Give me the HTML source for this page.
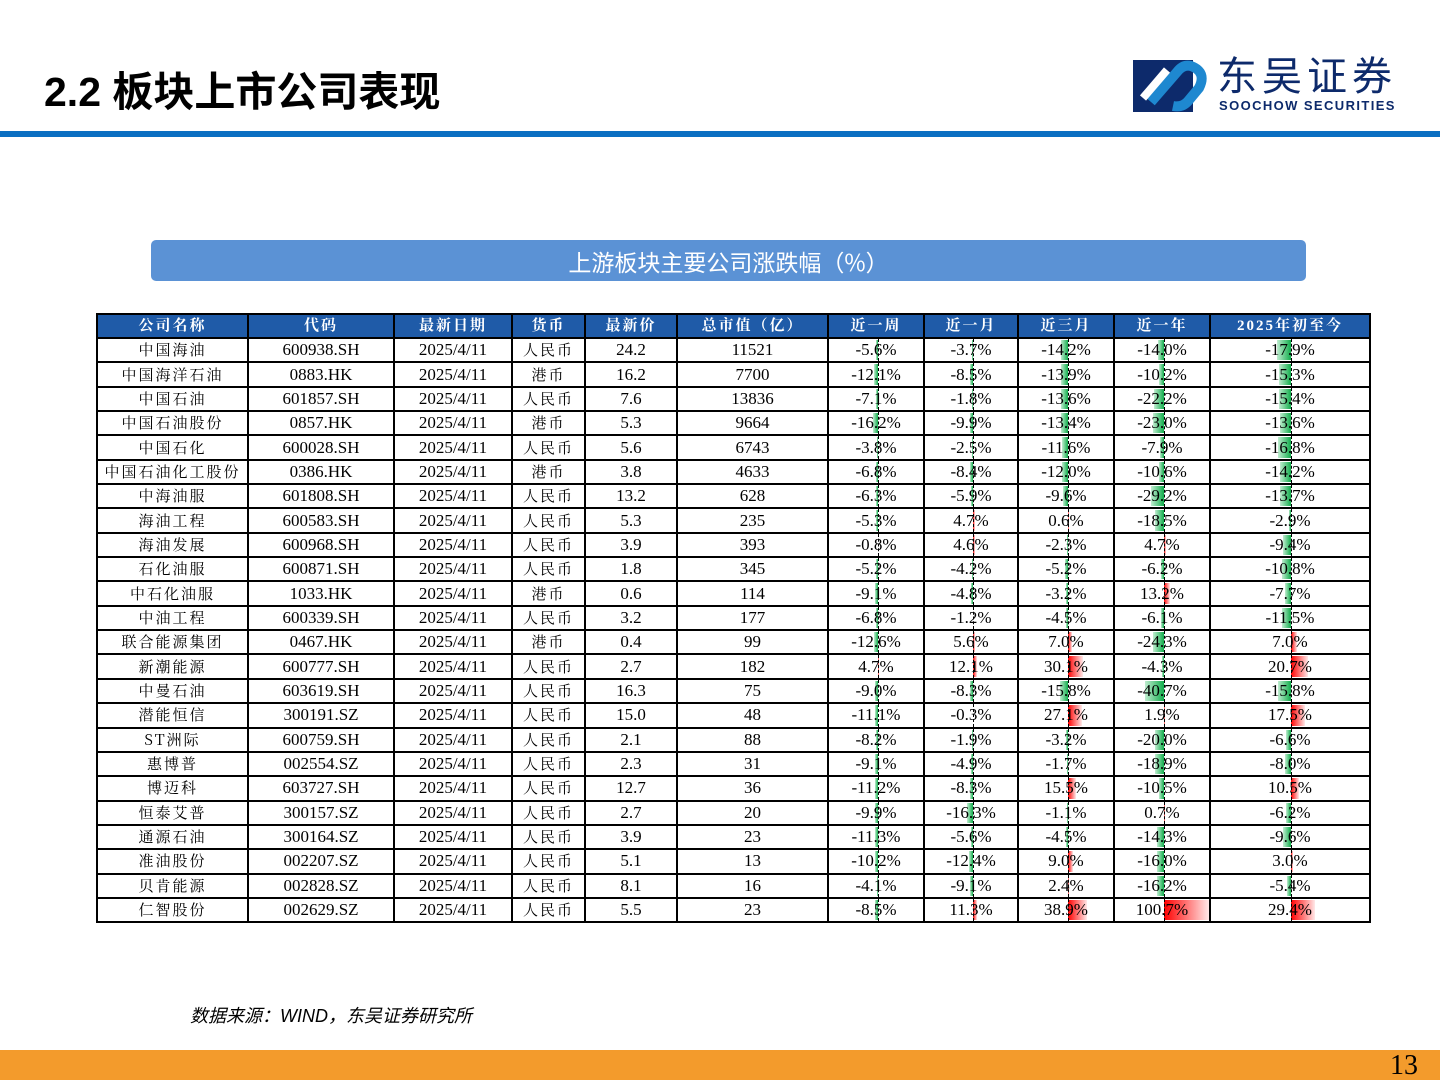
<!DOCTYPE html>
<html><head><meta charset="utf-8">
<style>
body{margin:0;width:1440px;height:1080px;position:relative;background:#fff;overflow:hidden;font-family:"Liberation Serif","Noto Serif CJK SC",serif;}
.abs{position:absolute;}
#tbl{position:absolute;left:96px;top:313px;border-collapse:collapse;table-layout:fixed;}
#tbl td,#tbl th{border:2px solid #000;padding:0;height:22.35px;text-align:center;font-size:17px;line-height:20px;position:relative;white-space:nowrap;overflow:hidden;}
#tbl th{background:#1f5ba8;color:#fff;font-weight:bold;letter-spacing:2px;font-size:15px;height:22px;}
.bar{position:absolute;top:1px;bottom:1px;}
.axis{position:absolute;top:0;bottom:0;width:0;border-left:1px dashed #000;}
.txt{position:relative;z-index:2;}
</style></head><body>
<div class="abs" style="left:44px;top:58px;font:bold 41px 'Liberation Sans','Noto Sans CJK SC',sans-serif;color:#000;">2.2 板块上市公司表现</div>
<div class="abs" style="left:1133px;top:58px;width:275px;height:56px;">
<svg width="76" height="54" viewBox="0 0 76 54"><rect x="0" y="2" width="60" height="52" fill="#0d2a6b"/><path d="M18 44 L44 14 Q50 6 58 8 Q74 14 66 30 L56 42 Q50 50 40 48" stroke="#1e88d0" stroke-width="10" fill="none"/><path d="M10 40 L34 12" stroke="#fff" stroke-width="8"/></svg>
<div class="abs" style="left:84px;top:-9px;font:40px 'Noto Sans CJK SC',sans-serif;color:#0d2a6b;letter-spacing:5px;line-height:48px;white-space:nowrap;">东吴证券</div>
<div class="abs" style="left:86px;top:40px;font:bold 13px 'Liberation Sans',sans-serif;color:#0d2a6b;letter-spacing:1.4px;white-space:nowrap;">SOOCHOW SECURITIES</div>
</div>
<div class="abs" style="left:0;top:131px;width:1440px;height:6px;background:#0b6fc2;"></div>
<div class="abs" style="left:151px;top:240px;width:1155px;height:41px;background:#5b92d5;border-radius:5px;color:#fff;font:23px 'Noto Sans CJK SC',sans-serif;text-align:center;line-height:43px;">上游板块主要公司涨跌幅（%）</div>
<table id="tbl"></table>
<div class="abs" style="left:190px;top:1002px;font:italic 18px 'Liberation Sans','Noto Sans CJK SC',sans-serif;">数据来源：WIND，东吴证券研究所</div>
<div class="abs" style="left:0;top:1050px;width:1440px;height:30px;background:#f39b2c;"></div>
<div class="abs" style="left:1390px;top:1050px;font:28px 'Liberation Serif',serif;color:#000;">13</div>
<script>
const headers=["公司名称","代码","最新日期","货币","最新价","总市值（亿）","近一周","近一月","近三月","近一年","2025年初至今"];
const colW=[151,146,118,73,92,151,96,94,96,96,160];
const names=["中国海油","中国海洋石油","中国石油","中国石油股份","中国石化","中国石油化工股份","中海油服","海油工程","海油发展","石化油服","中石化油服","中油工程","联合能源集团","新潮能源","中曼石油","潜能恒信","ST洲际","惠博普","博迈科","恒泰艾普","通源石油","准油股份","贝肯能源","仁智股份"];
const codes=["600938.SH","0883.HK","601857.SH","0857.HK","600028.SH","0386.HK","601808.SH","600583.SH","600968.SH","600871.SH","1033.HK","600339.SH","0467.HK","600777.SH","603619.SH","300191.SZ","600759.SH","002554.SZ","603727.SH","300157.SZ","300164.SZ","002207.SZ","002828.SZ","002629.SZ"];
const currency=["人民币","港币","人民币","港币","人民币","港币","人民币","人民币","人民币","人民币","港币","人民币","港币","人民币","人民币","人民币","人民币","人民币","人民币","人民币","人民币","人民币","人民币","人民币"];
const price=["24.2","16.2","7.6","5.3","5.6","3.8","13.2","5.3","3.9","1.8","0.6","3.2","0.4","2.7","16.3","15.0","2.1","2.3","12.7","2.7","3.9","5.1","8.1","5.5"];
const mktcap=["11521","7700","13836","9664","6743","4633","628","235","393","345","114","177","99","182","75","48","88","31","36","20","23","13","16","23"];
const week=[-5.6,-12.1,-7.1,-16.2,-3.8,-6.8,-6.3,-5.3,-0.8,-5.2,-9.1,-6.8,-12.6,4.7,-9.0,-11.1,-8.2,-9.1,-11.2,-9.9,-11.3,-10.2,-4.1,-8.5];
const month=[-3.7,-8.5,-1.8,-9.9,-2.5,-8.4,-5.9,4.7,4.6,-4.2,-4.8,-1.2,5.6,12.1,-8.3,-0.3,-1.9,-4.9,-8.3,-16.3,-5.6,-12.4,-9.1,11.3];
const month3=[-14.2,-13.9,-13.6,-13.4,-11.6,-12.0,-9.6,0.6,-2.3,-5.2,-3.2,-4.5,7.0,30.1,-15.8,27.1,-3.2,-1.7,15.5,-1.1,-4.5,9.0,2.4,38.9];
const year=[-14.0,-10.2,-22.2,-23.0,-7.9,-10.6,-29.2,-18.5,4.7,-6.2,13.2,-6.1,-24.3,-4.3,-40.7,1.9,-20.0,-18.9,-10.5,0.7,-14.3,-16.0,-16.2,100.7];
const ytd=[-17.9,-15.3,-15.4,-13.6,-16.8,-14.2,-13.7,-2.9,-9.4,-10.8,-7.7,-11.5,7.0,20.7,-15.8,17.5,-6.6,-8.0,10.5,-6.2,-9.6,3.0,-5.4,29.4];
const series=[week,month,month3,year,ytd];
const axisOff=[49,48,49,49,80];
const scale=[0.3,0.35,0.5,0.46,0.8];
const tbl=document.getElementById('tbl');
const cg=document.createElement('colgroup');tbl.appendChild(cg);
colW.forEach(w=>{const c=document.createElement('col');c.style.width=w+'px';cg.appendChild(c);});
const hr=document.createElement('tr');tbl.appendChild(hr);
headers.forEach((h,i)=>{const th=document.createElement('th');th.textContent=h;


hr.appendChild(th);});
names.forEach((n,r)=>{
 const tr=document.createElement('tr');tbl.appendChild(tr);
 
 
 [n,codes[r],"2025/4/11",currency[r],price[r],mktcap[r]].forEach((v,i)=>{
  const td=document.createElement('td');td.textContent=v;
  if(i==0||i==3){td.style.fontFamily='"Noto Serif CJK SC",serif';td.style.letterSpacing='2px';td.style.fontSize='15px';}
  
  
  tr.appendChild(td);});
 series.forEach((s,k)=>{
  const v=s[r];const td=document.createElement('td');
  
  
  const ax=axisOff[k];const len=Math.min(Math.abs(v)*scale[k],ax-2,colW[6+k]-ax-2);
  const b=document.createElement('div');b.className='bar';
  
  
  if(v<0){b.style.left=(ax-len)+'px';b.style.width=len+'px';b.style.background='linear-gradient(to right,#bfeccf,#12ad4c)';}
  else{b.style.left=ax+'px';b.style.width=len+'px';b.style.background='linear-gradient(to right,#ff0000,#ffe8e8)';}
  td.appendChild(b);
  const a=document.createElement('div');a.className='axis';a.style.left=ax+'px';
  
  
  td.appendChild(a);
  const t=document.createElement('span');t.className='txt';t.textContent=v.toFixed(1)+'%';
  td.appendChild(t);tr.appendChild(td);});
});
</script>
</body></html>
